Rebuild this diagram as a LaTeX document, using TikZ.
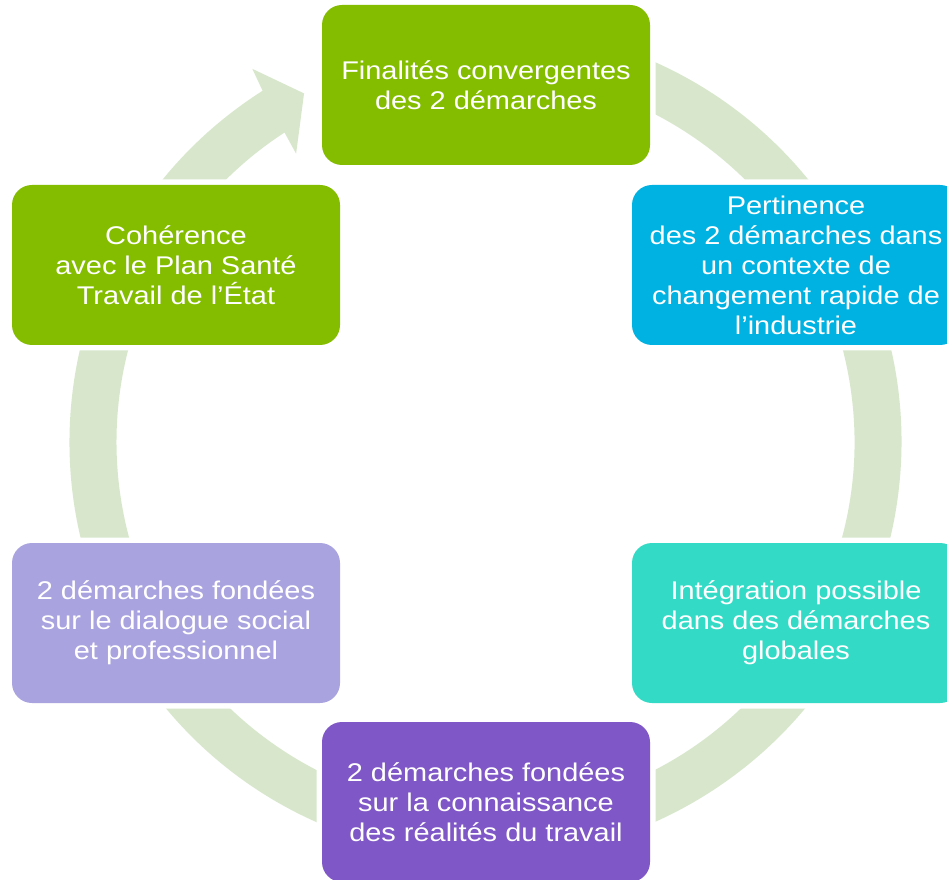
\documentclass[tikz,border=0pt]{standalone}
\usepackage{fontspec}
\newfontfamily\boxfont[FakeStretch=1.13]{Liberation Sans}
\definecolor{cgreen}{HTML}{84BD00}
\definecolor{ccyan}{HTML}{00B2E2}
\definecolor{cturq}{HTML}{33DBC6}
\definecolor{cpurple}{HTML}{7F57C6}
\definecolor{clav}{HTML}{A9A3DF}
\definecolor{cring}{HTML}{D8E7CC}
\tikzset{
  box/.style={rounded corners=20pt, minimum width=328pt, minimum height=160pt,
    inner sep=0pt, align=center, text=white,
    font=\boxfont\fontsize{25.6}{30}\selectfont,
    preaction={draw=white, line width=11pt}},
}
\begin{document}
\begin{tikzpicture}[x=1pt,y=1pt]
\useasboundingbox (0,0) rectangle (947,879);
\clip (0,0) rectangle (947,879);
\fill[white] (0,0) rectangle (947,879);
% ring with arrowhead
\begin{scope}[shift={(485.5,437)}]
\fill[cring] (122.4:416) arc[start angle=122.4, end angle=460, radius=416]
  -- (100:369) arc[start angle=460, end angle=123.0, radius=369]
  -- (123.3:345) -- (117.5:393) -- (122.0:440) -- cycle;
\end{scope}
% boxes
\node[box, fill=cgreen] (top) at (486,794) {Finalités convergentes\\des 2 démarches};
\node[box, fill=ccyan] (rt) at (796,614) {Pertinence\\des 2 démarches dans\\un contexte de\\changement rapide de\\l’industrie};
\node[box, fill=cturq] (rb) at (796,256) {Intégration possible\\dans des démarches\\globales};
\node[box, fill=cpurple] (bot) at (486,77) {2 démarches fondées\\sur la connaissance\\des réalités du travail};
\node[box, fill=clav] (lb) at (176,256) {2 démarches fondées\\sur le dialogue social\\et professionnel};
\node[box, fill=cgreen] (lt) at (176,614) {Cohérence\\avec le Plan Santé\\Travail de l’État};
\end{tikzpicture}
\end{document}
